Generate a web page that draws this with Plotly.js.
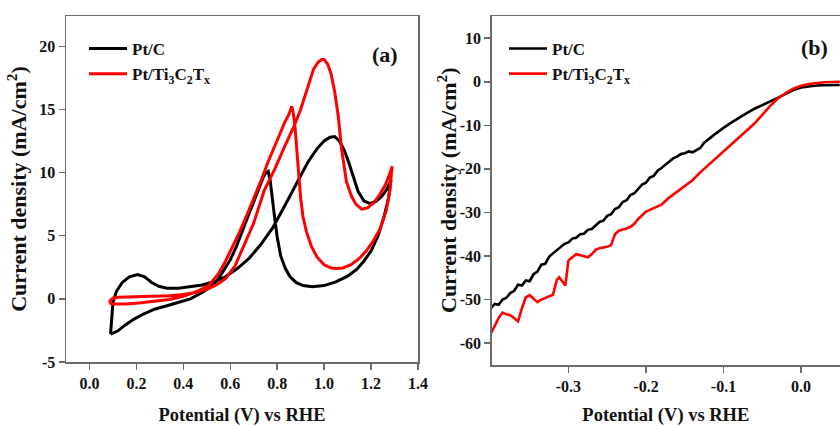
<!DOCTYPE html>
<html>
<head>
<meta charset="utf-8">
<script src="https://cdn.plot.ly/plotly-3.0.1.min.js"></script>
<style>html,body{margin:0;padding:0;background:#fff}#chart{width:840px;height:426px}</style>
</head>
<body>
<div id="chart"></div>
<script>
// ---------- Panel (a): cyclic voltammograms ----------
const seriesNames = ["Pt/C", "Pt/Ti<sub>3</sub>C<sub>2</sub>T<sub>x</sub>"];

const ptcA_x = [0.090,0.093,0.100,0.115,0.140,0.170,0.205,0.235,0.265,0.295,0.330,0.380,0.430,0.480,0.530,0.580,0.630,0.680,0.730,0.780,0.830,0.880,0.930,0.970,1.000,1.025,1.045,1.065,1.085,1.105,1.125,1.145,1.170,1.195,1.220,1.245,1.265,1.285,1.275,1.255,1.230,1.200,1.170,1.140,1.100,1.050,1.000,0.950,0.910,0.880,0.855,0.835,0.815,0.800,0.790,0.780,0.770,0.762,0.752,0.740,0.720,0.700,0.675,0.650,0.625,0.600,0.575,0.550,0.520,0.480,0.430,0.380,0.330,0.280,0.230,0.190,0.150,0.120,0.100,0.090];
const ptcA_y = [-2.8,-1.8,-0.3,0.6,1.3,1.75,1.92,1.75,1.3,1.0,0.85,0.85,0.95,1.1,1.35,1.75,2.4,3.2,4.3,5.6,7.3,9.0,10.8,11.9,12.5,12.8,12.85,12.5,11.8,10.8,9.6,8.5,7.75,7.55,7.7,8.1,8.6,9.4,8.0,6.5,5.0,3.8,3.0,2.35,1.8,1.35,1.05,0.95,1.05,1.3,1.75,2.4,3.4,4.9,6.3,8.0,9.4,10.1,10.0,9.6,8.6,7.7,6.5,5.3,4.1,3.1,2.3,1.6,1.0,0.5,0.0,-0.3,-0.55,-0.8,-1.2,-1.6,-2.1,-2.55,-2.75,-2.8];

const tiA_x = [0.085,0.090,0.100,0.120,0.160,0.220,0.280,0.340,0.400,0.450,0.500,0.540,0.580,0.620,0.660,0.700,0.745,0.790,0.830,0.870,0.900,0.930,0.955,0.975,0.990,1.000,1.015,1.030,1.045,1.060,1.075,1.095,1.115,1.135,1.160,1.185,1.210,1.235,1.260,1.280,1.290,1.280,1.265,1.240,1.210,1.180,1.150,1.115,1.080,1.050,1.030,1.000,0.970,0.945,0.925,0.910,0.900,0.893,0.885,0.877,0.868,0.862,0.850,0.830,0.810,0.785,0.760,0.730,0.700,0.670,0.640,0.610,0.580,0.550,0.510,0.460,0.400,0.340,0.280,0.220,0.160,0.120,0.095,0.085];
const tiA_y = [-0.3,-0.1,0.05,0.12,0.15,0.17,0.2,0.25,0.35,0.5,0.75,1.1,1.6,2.6,4.3,6.0,8.6,10.3,12.0,13.6,15.0,16.8,18.2,18.75,18.95,18.95,18.6,17.8,16.4,14.5,11.8,9.3,8.2,7.5,7.1,7.2,7.6,8.2,9.0,9.9,10.5,8.6,7.0,5.6,4.6,3.8,3.2,2.7,2.45,2.4,2.45,2.7,3.3,4.2,5.3,6.5,8.0,9.6,11.6,13.4,14.8,15.25,14.6,13.9,13.0,11.9,10.8,9.3,7.9,6.6,5.3,4.1,3.0,2.0,1.1,0.6,0.2,-0.05,-0.2,-0.3,-0.4,-0.42,-0.4,-0.3];

// ---------- Panel (b): polarization curves ----------
const ptcB_x = [-0.400,-0.395,-0.390,-0.385,-0.380,-0.375,-0.370,-0.365,-0.360,-0.355,-0.350,-0.345,-0.340,-0.335,-0.330,-0.325,-0.320,-0.315,-0.310,-0.305,-0.300,-0.295,-0.290,-0.285,-0.280,-0.275,-0.270,-0.265,-0.260,-0.255,-0.250,-0.245,-0.240,-0.235,-0.230,-0.225,-0.220,-0.215,-0.210,-0.205,-0.200,-0.195,-0.190,-0.185,-0.180,-0.175,-0.170,-0.165,-0.160,-0.155,-0.150,-0.145,-0.140,-0.135,-0.130,-0.125,-0.120,-0.115,-0.110,-0.105,-0.100,-0.090,-0.080,-0.070,-0.060,-0.050,-0.040,-0.030,-0.020,-0.010,0.000,0.010,0.020,0.030,0.040,0.050];
const ptcB_y = [-52.0,-51.0,-51.2,-50.0,-49.6,-48.5,-48.0,-46.6,-46.8,-45.6,-45.8,-44.2,-43.6,-42.0,-41.8,-40.2,-39.4,-38.6,-38.0,-37.2,-36.9,-36.0,-35.8,-35.0,-34.9,-34.0,-33.8,-33.0,-32.2,-31.9,-30.8,-30.4,-29.2,-28.8,-27.6,-27.2,-26.0,-25.6,-24.5,-23.6,-23.2,-22.0,-21.6,-20.4,-19.8,-19.0,-18.4,-17.6,-17.2,-16.6,-16.4,-16.0,-16.2,-15.6,-15.2,-14.0,-13.4,-12.6,-11.9,-11.2,-10.6,-9.4,-8.2,-7.2,-6.2,-5.4,-4.6,-3.7,-2.8,-1.9,-1.3,-1.0,-0.85,-0.8,-0.8,-0.75];

const tiB_x = [-0.400,-0.395,-0.390,-0.385,-0.380,-0.375,-0.370,-0.365,-0.360,-0.355,-0.350,-0.345,-0.340,-0.335,-0.330,-0.325,-0.320,-0.315,-0.312,-0.308,-0.304,-0.300,-0.295,-0.290,-0.285,-0.280,-0.275,-0.270,-0.265,-0.260,-0.255,-0.250,-0.245,-0.240,-0.235,-0.230,-0.225,-0.220,-0.215,-0.210,-0.205,-0.200,-0.195,-0.190,-0.185,-0.180,-0.170,-0.160,-0.150,-0.140,-0.130,-0.120,-0.110,-0.100,-0.090,-0.080,-0.070,-0.060,-0.050,-0.040,-0.030,-0.020,-0.010,0.000,0.010,0.020,0.030,0.040,0.050];
const tiB_y = [-57.8,-55.8,-54.2,-53.0,-53.4,-53.6,-54.2,-55.0,-52.0,-49.5,-49.0,-49.8,-50.6,-50.0,-49.6,-49.3,-48.9,-45.5,-44.9,-45.8,-46.8,-41.0,-40.4,-39.6,-39.8,-40.0,-40.3,-39.6,-38.6,-38.2,-38.0,-37.9,-37.5,-35.0,-34.2,-34.0,-33.7,-33.3,-32.6,-31.5,-30.6,-29.8,-29.4,-29.0,-28.6,-28.2,-26.6,-25.2,-23.8,-22.6,-20.8,-19.2,-17.6,-16.0,-14.5,-13.0,-11.4,-9.6,-7.6,-5.6,-3.9,-2.6,-1.6,-0.9,-0.5,-0.25,-0.1,-0.05,0.0];

// ---------- tick labels ----------
const xTicksA = [0.0,0.2,0.4,0.6,0.8,1.0,1.2,1.4];
const xTickTextA = ["0.0","0.2","0.4","0.6","0.8","1.0","1.2","1.4"];
const yTicksA = [-5,0,5,10,15,20];
const yTickTextA = ["-5","0","5","10","15","20"];
const xTicksB = [-0.3,-0.2,-0.1,0.0];
const xTickTextB = ["-0.3","-0.2","-0.1","0.0"];
const yTicksB = [-60,-50,-40,-30,-20,-10,0,10];
const yTickTextB = ["-60","-50","-40","-30","-20","-10","0","10"];

const axisTitleX = "Potential (V) vs RHE";
const axisTitleY = "Current density (mA/cm<sup>2</sup>)";
const panelLabels = ["(a)", "(b)"];

const colors = ["#000000", "#ff0000"];
const FONT = "Liberation Serif, Times New Roman, serif";

const traces = [
  {x: ptcA_x, y: ptcA_y, name: seriesNames[0], xaxis: "x", yaxis: "y", legend: "legend", line: {color: colors[0], width: 3}},
  {x: tiA_x, y: tiA_y, name: seriesNames[1], xaxis: "x", yaxis: "y", legend: "legend", line: {color: colors[1], width: 3}},
  {x: ptcB_x, y: ptcB_y, name: seriesNames[0], xaxis: "x2", yaxis: "y2", legend: "legend2", line: {color: colors[0], width: 2.6}},
  {x: tiB_x, y: tiB_y, name: seriesNames[1], xaxis: "x2", yaxis: "y2", legend: "legend2", line: {color: colors[1], width: 2.6}}
].map(t => Object.assign({type: "scatter", mode: "lines", hoverinfo: "skip"}, t));

const tickFont = {family: FONT, size: 16, color: "#111", weight: "bold"};
const titleFontX = {family: FONT, size: 18.5, color: "#111", weight: "bold"};
const titleFontY = {family: FONT, size: 22, color: "#111", weight: "bold"};
const axCommon = {
  showgrid: false, zeroline: false, showline: true, linecolor: "#6b6b6b", linewidth: 1.5,
  ticks: "outside", ticklen: 6, tickwidth: 1.5, tickcolor: "#6b6b6b", tickfont: tickFont, automargin: false
};

const layout = {
  width: 840, height: 426,
  margin: {l: 0, r: 0, t: 0, b: 0},
  paper_bgcolor: "#fff", plot_bgcolor: "#fff",
  font: {family: FONT, color: "#111"},
  showlegend: true,
  xaxis: Object.assign({}, axCommon, {
    domain: [66/840, 418/840], anchor: "y", range: [-0.1, 1.4001], mirror: true,
    tickmode: "array", tickvals: xTicksA, ticktext: xTickTextA,
    title: {text: axisTitleX, font: titleFontX, standoff: 23}
  }),
  yaxis: Object.assign({}, axCommon, {
    domain: [1 - 362/426, 1 - 16/426], anchor: "x", range: [-5, 22.4], mirror: true,
    tickmode: "array", tickvals: yTicksA, ticktext: yTickTextA,
    title: {text: axisTitleY, font: titleFontY, standoff: 6}
  }),
  xaxis2: Object.assign({}, axCommon, {
    domain: [491.7/840, 1], anchor: "y2", range: [-0.399, 0.0503], mirror: true,
    tickmode: "array", tickvals: xTicksB, ticktext: xTickTextB,
    title: {text: axisTitleX, font: titleFontX, standoff: 23}
  }),
  yaxis2: Object.assign({}, axCommon, {
    domain: [1 - 365.3/426, 1 - 16/426], anchor: "x2", range: [-65.1, 15.1], mirror: false,
    tickmode: "array", tickvals: yTicksB, ticktext: yTickTextB
  }),
  legend: {
    x: 84/840, y: 1 - 31/426, xanchor: "left", yanchor: "top", bgcolor: "rgba(0,0,0,0)",
    font: {family: FONT, size: 17, color: "#111", weight: "bold"}, itemwidth: 38, tracegroupgap: 0
  },
  legend2: {
    x: 504/840, y: 1 - 31/426, xanchor: "left", yanchor: "top", bgcolor: "rgba(0,0,0,0)",
    font: {family: FONT, size: 17, color: "#111", weight: "bold"}, itemwidth: 38, tracegroupgap: 0
  },
  annotations: [
    {text: panelLabels[0], xref: "paper", yref: "paper", x: 385/840, y: 1 - 54/426, xanchor: "center", yanchor: "middle",
     showarrow: false, font: {family: FONT, size: 22, color: "#111", weight: "bold"}},
    {text: panelLabels[1], xref: "paper", yref: "paper", x: 814/840, y: 1 - 48/426, xanchor: "center", yanchor: "middle",
     showarrow: false, font: {family: FONT, size: 22, color: "#111", weight: "bold"}},
    // y-axis title of panel (b), placed as in the reference (closer to its tick labels than Plotly's minimum standoff)
    {text: axisTitleY, xref: "paper", yref: "paper", x: 447/840, y: 1 - 190/426, xanchor: "center", yanchor: "middle",
     textangle: -90, showarrow: false, font: titleFontY}
  ]
};

Plotly.newPlot("chart", traces, layout, {staticPlot: true, displayModeBar: false});
</script>
</body>
</html>
